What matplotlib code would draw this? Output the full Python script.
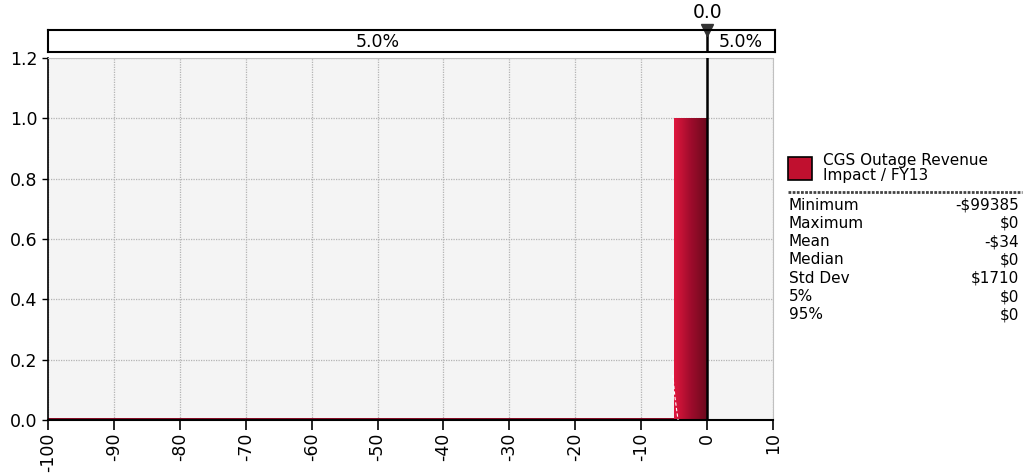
import numpy as np
import matplotlib
matplotlib.use("Agg")
from matplotlib import pyplot as plt
from matplotlib.patches import Rectangle
from matplotlib.colors import LinearSegmentedColormap

# histogram data (thousands of $)
bin_left = [-100, -5]
bin_right = [-5, 0]
bin_height = [0.008, 1.0]

x_ticks = [-100, -90, -80, -70, -60, -50, -40, -30, -20, -10, 0, 10]
y_ticks = [0.0, 0.2, 0.4, 0.6, 0.8, 1.0, 1.2]

marker_value = 0.0
band_labels = ["5.0%", "5.0%"]

series_name = "CGS Outage Revenue\nImpact / FY13"
stat_names = ["Minimum", "Maximum", "Mean", "Median", "Std Dev", "5%", "95%"]
stat_values = ["-$99385", "$0", "-$34", "$0", "$1710", "$0", "$0"]

plt.rcParams['font.family'] = ['DejaVu Sans']

W, H = 1026, 473
fig = plt.figure(figsize=(W / 100, H / 100), dpi=100)

# main axes
ax = fig.add_axes([48 / W, 1 - 420 / H, (773 - 48) / W, (420 - 58) / H])
ax.set_facecolor('#f4f4f4')
ax.set_xticks(x_ticks)
ax.set_xticklabels([str(t) for t in x_ticks], rotation=90, fontsize=12.5)
ax.set_yticks(y_ticks)
ax.set_yticklabels([f"{t:.1f}" for t in y_ticks], fontsize=12.5)
ax.tick_params(axis='x', length=7, width=1.2, direction='out', pad=2)
ax.tick_params(axis='y', length=4, width=1, direction='out')
ax.grid(True, color='#b4b4b4', linestyle=(0, (1, 1)), linewidth=0.9)
ax.set_axisbelow(True)
for side in ['top', 'right']:
    ax.spines[side].set_color('#c0c0c0')
    ax.spines[side].set_linestyle((0, (1, 1)))
ax.spines['bottom'].set_linewidth(1.5)
ax.spines['left'].set_linewidth(1.2)

cmap = LinearSegmentedColormap.from_list('bar', ['#e0173e', '#a00c2c', '#6c0a1d'])
grad = np.linspace(0, 1, 256).reshape(1, -1)
for x0, x1, h in zip(bin_left, bin_right, bin_height):
    rect = Rectangle((x0, 0), x1 - x0, h, facecolor='none', edgecolor='none')
    ax.add_patch(rect)
    im = ax.imshow(grad, cmap=cmap if h > 0.5 else LinearSegmentedColormap.from_list(
        'thin', ['#8a0c26', '#8a0c26']), aspect='auto', extent=(x0, x1, 0, h),
        zorder=2, interpolation='bilinear')
    im.set_clip_path(rect)
ax.set_xlim(-100, 10)
ax.set_ylim(0, 1.2)

# faint fitted curve
ax.plot([-5.2, -4.9, -4.6, -4.4], [0.15, 0.08, 0.03, 0.0], color='white',
        linestyle=(0, (3, 2)), linewidth=0.8, zorder=3)

ax.axvline(marker_value, color='black', linewidth=1.8, zorder=4)

# percentile band
band = fig.add_axes([48 / W, 1 - 52 / H, (775 - 48) / W, 22 / H])
band.set_xlim(-100, 10.3)
band.set_ylim(0, 1)
band.set_xticks([])
band.set_yticks([])
for s in band.spines.values():
    s.set_linewidth(1.5)
band.axvline(marker_value, color='black', linewidth=1.8)
band.text((-100 + marker_value) / 2, 0.45, band_labels[0], ha='center', va='center', fontsize=12.5)
band.text((marker_value + 10.3) / 2, 0.45, band_labels[1], ha='center', va='center', fontsize=12.5)
band.plot([marker_value], [1.0], marker='v', color='#333333', markersize=9, clip_on=False)
fig.text(708 / W, 1 - 12 / H, f"{marker_value:.1f}", ha='center', va='center', fontsize=13.5)

# legend and stats
fig.patches.append(Rectangle((788 / W, 1 - 180 / H), 24 / W, 23 / H, transform=fig.transFigure,
                             facecolor='#c0102f', edgecolor='black', linewidth=1.2))
fig.text(823 / W, 1 - 168 / H, series_name, fontsize=11, va='center', linespacing=0.95)
fig.add_artist(plt.Line2D([788 / W, 1022 / W], [1 - 192 / H, 1 - 192 / H],
                          color='#444444', linewidth=2, linestyle=(0, (1, 0.5))))
for i, (n, v) in enumerate(zip(stat_names, stat_values)):
    y = 1 - (205 + i * 18.3) / H
    fig.text(789 / W, y, n, fontsize=11, va='center')
    fig.text(1019 / W, y, v, fontsize=11, va='center', ha='right')

fig.savefig('out.png', dpi=100)
